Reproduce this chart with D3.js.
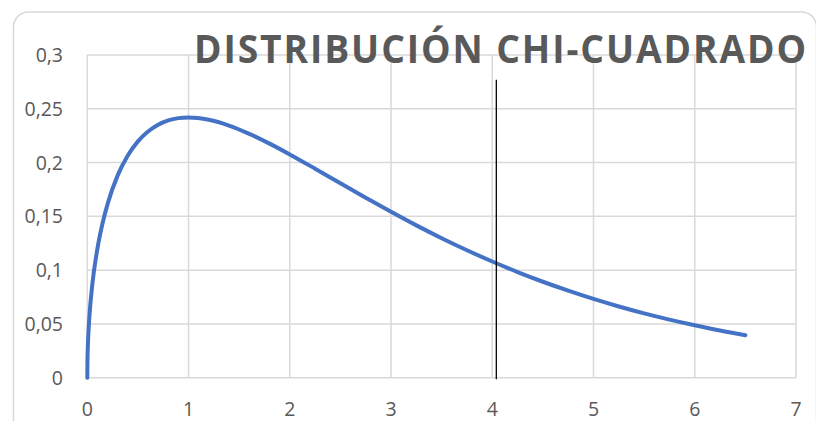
<!DOCTYPE html>
<html><head><meta charset="utf-8">
<script src="https://cdn.jsdelivr.net/npm/d3@7"></script>
<style>body{margin:0;background:#fff}svg{display:block}</style>
</head><body>
<script>
const title = "DISTRIBUCIÓN CHI-CUADRADO";
const xValues = [0,0.001,0.005,0.01,0.02,0.05,0.1,0.15,0.2,0.3,0.4,0.5,0.6,0.7,0.8,0.9,1.0,1.2,1.4,1.6,1.8,2.0,2.25,2.5,2.75,3.0,3.25,3.5,3.75,4.0,4.25,4.5,4.75,5.0,5.25,5.5,5.75,6.0,6.25,6.5];
const yValues = [0,0.0126,0.0281,0.0397,0.0559,0.0870,0.1200,0.1433,0.1614,0.1881,0.2066,0.2197,0.2289,0.2352,0.2392,0.2413,0.2420,0.2398,0.2344,0.2267,0.2176,0.2076,0.1943,0.1807,0.1673,0.1542,0.1416,0.1297,0.1185,0.1080,0.0982,0.0892,0.0809,0.0732,0.0662,0.0598,0.0540,0.0487,0.0438,0.0395];
const xTicks = [0,1,2,3,4,5,6,7];
const yTicks = [0,0.05,0.1,0.15,0.2,0.25,0.3];
const markerX = [4.04];
const markerY = [-0.0015, 0.277];

const W=816,H=421;
const svg=d3.select("body").append("svg").attr("width",W).attr("height",H);
svg.append("rect").attr("x",13.5).attr("y",12).attr("width",803).attr("height",430).attr("rx",15)
  .attr("fill","#fff").attr("stroke","#d9d9d9").attr("stroke-width",1.5);

const x=d3.scaleLinear().domain([0,7]).range([87.3,796]);
const y=d3.scaleLinear().domain([0,0.3]).range([377.7,55]);
const fmt=d=>String(+d.toFixed(2)).replace(".",",");

const g=svg.append("g");
g.selectAll(".hg").data(yTicks).join("line")
 .attr("x1",x(0)).attr("x2",x(7)).attr("y1",d=>y(d)).attr("y2",d=>y(d))
 .attr("stroke","#d9d9d9").attr("stroke-width",1.5);
g.selectAll(".vg").data(xTicks).join("line")
 .attr("x1",d=>x(d)).attr("x2",d=>x(d)).attr("y1",y(0)).attr("y2",y(0.3))
 .attr("stroke","#d9d9d9").attr("stroke-width",1.5);

const font="'Open Sans', sans-serif";
g.selectAll(".yl").data(yTicks).join("text")
 .attr("x",63).attr("y",d=>y(d)).attr("dy","0.36em").attr("text-anchor","end")
 .attr("font-family",font).attr("font-size",19.5).attr("fill","#595959").text(fmt);
g.selectAll(".xl").data(xTicks).join("text")
 .attr("x",d=>x(d)).attr("y",409).attr("dy","0.36em").attr("text-anchor","middle")
 .attr("font-family",font).attr("font-size",19.5).attr("fill","#595959").text(fmt);

const tg=svg.append("g");
const t=tg.append("text").attr("x",0).attr("y",0)
 .attr("font-family",font).attr("font-weight","bold").attr("font-size",39)
 .attr("letter-spacing",2).attr("fill","#595959").text(title);
const bb=t.node().getBBox();
const sx=614/bb.width;
tg.attr("transform",`translate(194,63) scale(${sx},1)`);
t.attr("x",-bb.x);

const pts=xValues.map((d,i)=>[d,yValues[i]]);
svg.append("path").datum(pts)
 .attr("d",d3.line().x(d=>x(d[0])).y(d=>y(d[1])).curve(d3.curveMonotoneX))
 .attr("fill","none").attr("stroke","#4472C4").attr("stroke-width",4).attr("stroke-linecap","round");

svg.append("line").attr("x1",x(markerX[0])).attr("x2",x(markerX[0]))
 .attr("y1",y(markerY[0])).attr("y2",y(markerY[1]))
 .attr("stroke","#000").attr("stroke-width",1.3);
</script>
</body></html>
